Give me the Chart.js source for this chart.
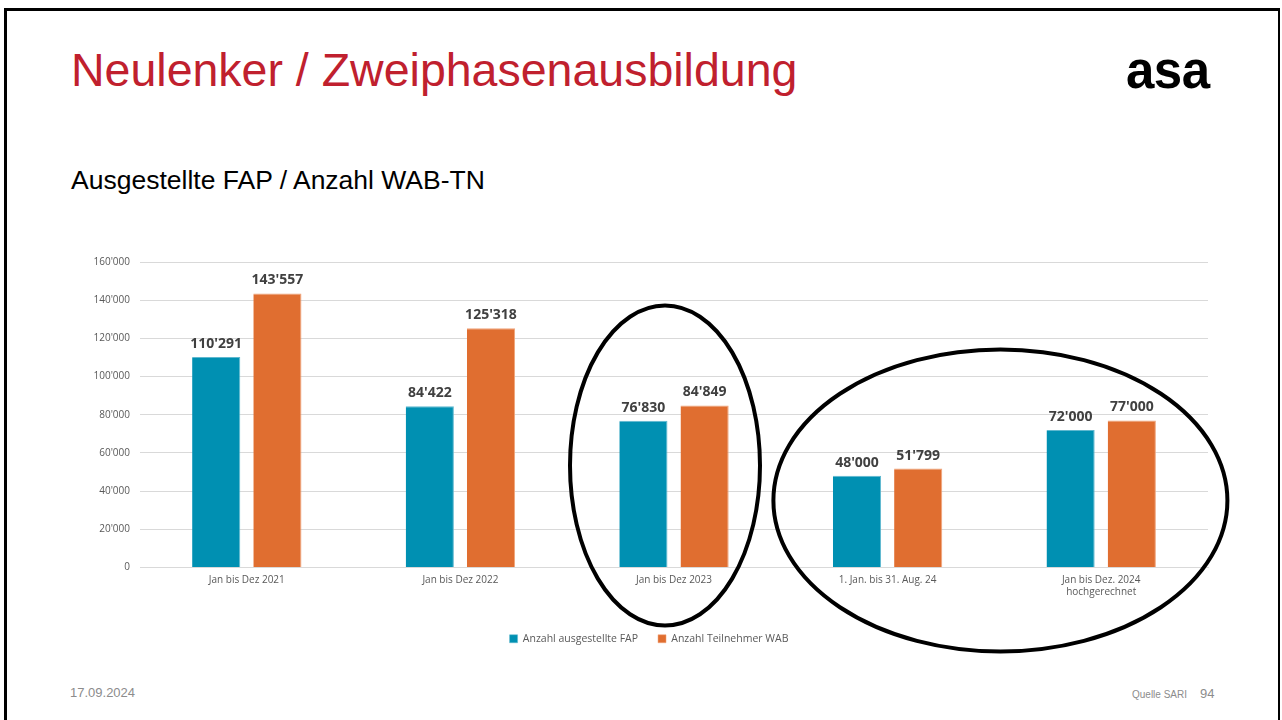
<!DOCTYPE html>
<html>
<head>
<meta charset="utf-8">
<script src="https://cdn.jsdelivr.net/npm/chart.js@4/dist/chart.umd.min.js"></script>
<style>
  body { margin: 0; background: #fff; width: 1282px; height: 720px; overflow: hidden; position: relative; font-family: "Liberation Sans", Arial, sans-serif; }
  #rahmen { position: absolute; left: 4px; top: 8px; width: 1271px; height: 720px; border-top: 3px solid #000; border-left: 3px solid #000; border-right: 2px solid #000; }
  #titel { position: absolute; left: 71px; top: 43px; font-size: 46.5px; color: #c0202e; }
  #logo { position: absolute; left: 1126px; top: 41px; font-size: 51px; font-weight: bold; color: #000; letter-spacing: -0.5px; }
  #untertitel { position: absolute; left: 71px; top: 165px; font-size: 26.5px; color: #000; }
  #datum { position: absolute; left: 70px; top: 685px; font-size: 13px; color: #8c8c8c; }
  #quelle { position: absolute; left: 1132px; top: 689px; font-size: 10px; color: #8c8c8c; }
  #seite { position: absolute; left: 1200px; top: 686px; font-size: 13px; color: #8c8c8c; }
  #chartBox { position: absolute; left: 0; top: 0; width: 1282px; height: 720px; }
</style>
</head>
<body>
<div id="rahmen"></div>
<div id="titel">Neulenker / Zweiphasenausbildung</div>
<div id="logo">asa</div>
<div id="untertitel">Ausgestellte FAP / Anzahl WAB-TN</div>
<div id="datum">17.09.2024</div>
<div id="quelle">Quelle SARI</div>
<div id="seite">94</div>
<div id="chartBox"><canvas id="grafico"></canvas></div>

<script>
// Kategorien und Werte
const kategorien = [
  "Jan bis Dez 2021",
  "Jan bis Dez 2022",
  "Jan bis Dez 2023",
  "1. Jan. bis 31. Aug. 24",
  ["Jan bis Dez. 2024", "hochgerechnet"],
];
const werteFAP = [110291, 84422, 76830, 48000, 72000];
const werteWAB = [143557, 125318, 84849, 51799, 77000];
const yTicks = [0, 20000, 40000, 60000, 80000, 100000, 120000, 140000, 160000];

function formatZahl(n) {
  return String(Math.round(n)).replace(/\B(?=(\d{3})+(?!\d))/g, "'");
}

// Werte über den Balken
const wertePlugin = {
  id: "werte",
  afterDatasetsDraw(chart) {
    const ctx = chart.ctx;
    ctx.save();
    ctx.font = "bold 14px 'Open Sans', sans-serif";
    ctx.fillStyle = "#404040";
    ctx.textAlign = "center";
    ctx.textBaseline = "bottom";
    chart.data.datasets.forEach((ds, i) => {
      chart.getDatasetMeta(i).data.forEach((bar, j) => {
        ctx.fillText(formatZahl(ds.data[j]), bar.x, bar.y - 6);
      });
    });
    ctx.restore();
  },
};

// Ellipsen (Markierungen)
const ellipsenPlugin = {
  id: "ellipsen",
  afterDraw(chart) {
    const ctx = chart.ctx;
    const x = chart.scales.x;
    const area = chart.chartArea;
    ctx.save();
    ctx.strokeStyle = "#000";
    ctx.lineWidth = 4;
    ctx.beginPath();
    ctx.ellipse(x.getPixelForValue(2) - 9, area.bottom - 102, 95, 160, 0, 0, Math.PI * 2);
    ctx.stroke();
    ctx.beginPath();
    let mitte = (x.getPixelForValue(3) + x.getPixelForValue(4)) / 2;
    ctx.ellipse(mitte + 6, area.bottom - 67, 227, 151, 0, 0, Math.PI * 2);
    ctx.stroke();
    ctx.restore();
  },
};

const dados = {
  labels: kategorien,
  datasets: [
    {
      label: "Anzahl ausgestellte FAP",
      data: werteFAP,
      backgroundColor: "#0090b2",
      borderColor: "#5fb8cf",
      borderWidth: { left: 0, right: 1, top: 1, bottom: 0 },
      categoryPercentage: 0.573,
      barPercentage: 0.787,
    },
    {
      label: "Anzahl Teilnehmer WAB",
      data: werteWAB,
      backgroundColor: "#e06e30",
      borderColor: "#f0a47a",
      borderWidth: { left: 0, right: 1, top: 1, bottom: 0 },
      categoryPercentage: 0.573,
      barPercentage: 0.787,
    },
  ],
};

const config = {
  type: "bar",
  data: dados,
  options: {
    responsive: false,
    animation: false,
    layout: { padding: { left: 90, right: 74, top: 262, bottom: 66 } },
    scales: {
      x: {
        grid: { display: false },
        border: { color: "#d9d9d9" },
        ticks: { color: "#595959", font: { family: "'Open Sans', sans-serif", size: 10 }, padding: -1, maxRotation: 0 },
        afterFit(scale) { scale.height = 46; },
      },
      y: {
        min: 0,
        max: 160000,
        afterBuildTicks(scale) { scale.ticks = yTicks.map((v) => ({ value: v })); },
        grid: { color: "#d9d9d9", drawTicks: false },
        border: { display: false },
        ticks: {
          color: "#595959",
          font: { family: "'Open Sans', sans-serif", size: 10 },
          padding: 10,
          callback: (v) => formatZahl(v),
        },
        afterFit(scale) { scale.width = 50; },
      },
    },
    plugins: {
      legend: {
        position: "bottom",
        labels: {
          boxWidth: 8,
          boxHeight: 8,
          color: "#595959",
          font: { family: "'Open Sans', sans-serif", size: 10.5 },
          padding: 20,
        },
      },
      tooltip: { enabled: false },
    },
  },
  plugins: [wertePlugin, ellipsenPlugin],
};

const canvas = document.getElementById("grafico");
canvas.width = 1282;
canvas.height = 720;
new Chart(canvas, config);
</script>
</body>
</html>
